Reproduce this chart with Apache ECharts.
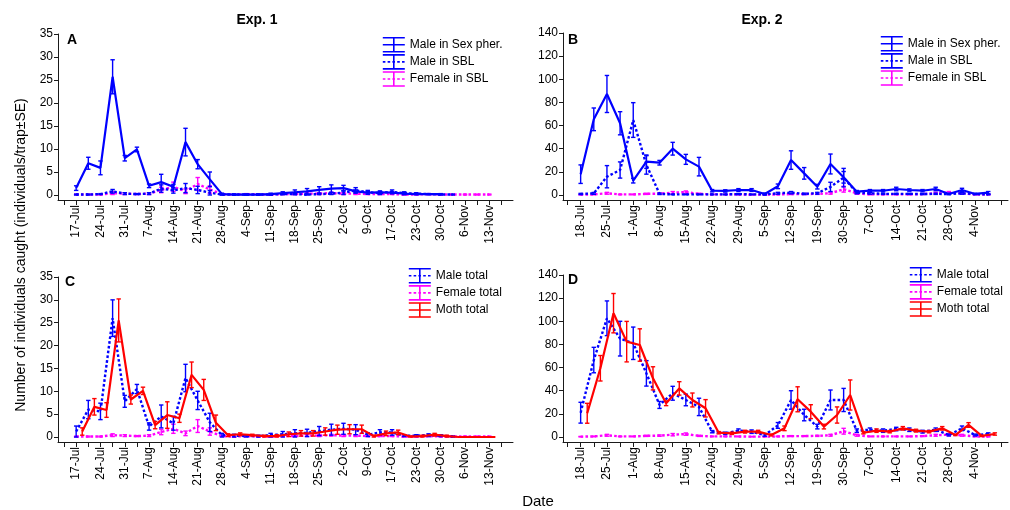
<!DOCTYPE html>
<html>
<head>
<meta charset="utf-8">
<script src="https://cdn.jsdelivr.net/npm/echarts@6/dist/echarts.min.js"></script>
<style>
  html, body { margin: 0; padding: 0; background: #fff; }
  #chart { width: 1010px; height: 510px; }
</style>
</head>
<body>
<div id="chart"></div>
<script>
// Date labels (every second trap check is labelled)
const exp1Labels = ['17-Jul', '24-Jul', '31-Jul', '7-Aug', '14-Aug', '21-Aug', '28-Aug', '4-Sep', '11-Sep',
  '18-Sep', '25-Sep', '2-Oct', '9-Oct', '17-Oct', '23-Oct', '30-Oct', '6-Nov', '13-Nov'];
const exp2Labels = ['18-Jul', '25-Jul', '1-Aug', '8-Aug', '15-Aug', '22-Aug', '29-Aug', '5-Sep', '12-Sep',
  '19-Sep', '30-Sep', '7-Oct', '14-Oct', '21-Oct', '28-Oct', '4-Nov'];

// Exp. 1 — mean catch per trap for each trap check (first entry = first check), with SE
const exp1MaleSexPher = [1.5, 6.9, 5.9, 25.7, 8.0, 9.9, 2.0, 2.8, 1.8, 11.5, 6.7, 3.4, 0.2, 0.1, 0.1, 0.1, 0.2, 0.4,
  0.6, 0.8, 1.1, 1.4, 1.5, 0.8, 0.5, 0.6, 0.5, 0.3, 0.2, 0.2, 0.2];
const exp1MaleSexPherSE = [0.5, 1.3, 1.5, 3.7, 0.6, 0.5, 0.4, 1.7, 0.5, 3.0, 1.0, 1.6, 0.2, 0.1, 0.1, 0.1, 0.2, 0.3,
  0.5, 0.6, 0.7, 0.8, 0.6, 0.3, 0.3, 0.3, 0.2, 0.2, 0.1, 0.1, 0.1];
const exp1MaleSBL = [0.1, 0.1, 0.2, 0.8, 0.3, 0.2, 0.3, 1.4, 1.0, 1.5, 1.1, 0.5, 0.1, 0.1, 0.1, 0.1, 0.1, 0.2, 0.2,
  0.1, 0.2, 0.3, 0.5, 1.0, 0.6, 0.4, 0.7, 0.4, 0.3, 0.2, 0.1, 0.1];
const exp1MaleSBLSE = [0.1, 0.1, 0.1, 0.4, 0.2, 0.1, 0.2, 0.8, 0.6, 1.0, 0.8, 0.5, 0.1, 0.1, 0.1, 0.1, 0.1, 0.1, 0.1,
  0.1, 0.1, 0.2, 0.4, 0.6, 0.4, 0.3, 0.4, 0.3, 0.2, 0.1, 0.1, 0.1];
const exp1FemaleSBL = [0.1, 0.1, 0.1, 0.4, 0.3, 0.2, 0.3, 1.1, 1.8, 0.8, 2.4, 1.2, 0.2, 0.1, 0.2, 0.1, 0.1, 0.2, 0.2,
  0.3, 0.3, 0.4, 0.3, 0.3, 0.2, 0.2, 0.2, 0.1, 0.1, 0.2, 0.1, 0.1, 0.1, 0.1, 0.1];
const exp1FemaleSBLSE = [0.1, 0.1, 0.1, 0.3, 0.2, 0.1, 0.2, 0.6, 1.0, 0.5, 1.4, 0.8, 0.1, 0.1, 0.1, 0.1, 0.1, 0.1, 0.1,
  0.2, 0.2, 0.2, 0.2, 0.2, 0.1, 0.1, 0.1, 0.1, 0.1, 0.1, 0.1, 0.1, 0.1, 0.1, 0.1];
const exp1MaleTotal = [1.2, 6.0, 5.6, 26.0, 7.8, 10.5, 2.3, 4.5, 3.0, 12.9, 8.0, 3.2, 0.4, 0.3, 0.2, 0.2, 0.4, 0.6,
  0.8, 0.9, 1.3, 1.6, 1.8, 1.6, 0.5, 1.0, 1.0, 0.3, 0.3, 0.4, 0.3, 0.1];
const exp1MaleTotalSE = [1.2, 2.0, 1.8, 4.0, 1.3, 1.0, 0.8, 2.5, 1.5, 3.0, 2.0, 2.0, 0.4, 0.3, 0.2, 0.2, 0.4, 0.6,
  0.8, 0.8, 1.0, 1.2, 1.2, 1.1, 0.4, 0.6, 0.6, 0.2, 0.2, 0.3, 0.2, 0.1];
const exp1FemaleTotal = [0.1, 0.1, 0.1, 0.4, 0.3, 0.2, 0.3, 1.1, 1.8, 0.8, 2.4, 1.2, 0.2, 0.1, 0.2, 0.1, 0.1, 0.2, 0.2,
  0.3, 0.3, 0.4, 0.3, 0.3, 0.2, 0.2, 0.2, 0.1, 0.1, 0.2, 0.1, 0.1, 0.1, 0.1, 0.1];
const exp1FemaleTotalSE = [0.1, 0.1, 0.1, 0.3, 0.2, 0.1, 0.2, 0.6, 1.0, 0.5, 1.4, 0.8, 0.1, 0.1, 0.1, 0.1, 0.1, 0.1, 0.1,
  0.2, 0.2, 0.2, 0.2, 0.2, 0.1, 0.1, 0.1, 0.1, 0.1, 0.1, 0.1, 0.1, 0.1, 0.1, 0.1];
const exp1MothTotal = [1.2, 6.6, 5.9, 25.5, 8.2, 10.1, 2.6, 4.8, 4.1, 13.6, 10.3, 3.1, 0.4, 0.6, 0.4, 0.2, 0.2, 0.6,
  0.8, 0.8, 1.2, 1.6, 1.7, 1.7, 0.2, 0.8, 1.0, 0.1, 0.2, 0.5, 0.2, 0.0, 0.0, 0.0, 0.0];
const exp1MothTotalSE = [0.8, 1.8, 1.6, 4.7, 1.0, 0.8, 0.8, 2.9, 0.9, 2.8, 2.3, 1.7, 0.3, 0.3, 0.2, 0.2, 0.3, 0.5,
  0.6, 0.6, 0.8, 1.0, 1.0, 0.9, 0.2, 0.5, 0.5, 0.1, 0.2, 0.3, 0.2, 0, 0, 0, 0];

// Exp. 2
const exp2MaleSexPher = [18, 65.4, 87.3, 62, 12.4, 28.8, 27.9, 40, 30.8, 24.5, 3.7, 3.5, 4.3, 4.3, 0.9, 7.5, 30.2,
  18.7, 7.2, 26.8, 15.3, 2.9, 3.7, 3.7, 5.2, 4.3, 3.7, 5.2, 0.9, 4.3, 0.9, 2.0];
const exp2MaleSexPherSE = [8, 9.8, 16, 10, 2, 5.8, 2, 5.5, 4.3, 8, 1, 1, 1.2, 1.2, 0.8, 2, 8, 5, 2, 8.6, 5, 1, 1, 1,
  1.5, 1, 1, 1.5, 0.5, 1.5, 0.5, 1];
const exp2MaleSBL = [0.9, 1.4, 15.8, 21.6, 64.8, 26, 1.0, 0.5, 0.5, 0.5, 0.5, 0.5, 0.8, 0.5, 0.5, 1.5, 2.0, 1.0, 1.5,
  7.0, 15.0, 2.0, 1.5, 1.0, 1.0, 1.0, 0.8, 1.0, 0.8, 1.5, 0.8, 0.5];
const exp2MaleSBLSE = [0.5, 0.8, 9.6, 7, 15, 8, 0.6, 0.3, 0.3, 0.3, 0.3, 0.3, 0.5, 0.3, 0.3, 0.8, 1, 0.6, 0.8, 4, 8, 1,
  0.8, 0.5, 0.5, 0.5, 0.4, 0.5, 0.4, 0.8, 0.4, 0.3];
const exp2FemaleSBL = [0.3, 0.5, 1.5, 0.5, 0.5, 1.0, 1.2, 2.0, 2.5, 1.0, 0.5, 0.5, 0.5, 0.3, 0.3, 0.5, 0.8, 0.8, 1.0,
  1.5, 5.0, 1.5, 0.5, 0.5, 0.5, 0.5, 0.8, 1.5, 2.0, 1.5, 0.5, 0.3];
const exp2FemaleSBLSE = [0.2, 0.3, 0.8, 0.3, 0.3, 0.5, 0.6, 1, 1, 0.5, 0.3, 0.3, 0.3, 0.2, 0.2, 0.3, 0.4, 0.4, 0.5,
  0.8, 2.5, 0.8, 0.3, 0.3, 0.3, 0.3, 0.4, 0.8, 1, 0.8, 0.3, 0.2];
const exp2MaleTotal = [21, 66.5, 102.6, 85, 81, 55, 27.7, 37.8, 32, 26, 4.6, 3.2, 5.5, 4.6, 1.7, 10, 32, 19, 9, 32, 32,
  5.5, 6.3, 5.5, 6.9, 6.3, 4.6, 6.3, 1.7, 7.5, 1.7, 2.6];
const exp2MaleTotalSE = [9, 11, 15, 15, 14, 11, 3, 6, 5, 7.5, 1, 1, 1.5, 1.5, 1, 2.5, 8, 5, 2, 8.6, 10, 1.5, 1.5, 1.5,
  1.5, 1.5, 1.2, 1.5, 0.8, 2, 0.8, 1];
const exp2FemaleTotal = [0.3, 0.5, 1.5, 0.5, 0.5, 1.0, 1.2, 2.0, 2.5, 1.0, 0.5, 0.5, 0.5, 0.3, 0.3, 0.5, 0.8, 0.8, 1.0,
  1.5, 5.0, 1.5, 0.5, 0.5, 0.5, 0.5, 0.8, 1.5, 2.0, 1.5, 0.5, 0.3];
const exp2FemaleTotalSE = [0.2, 0.3, 0.8, 0.3, 0.3, 0.5, 0.6, 1, 1, 0.5, 0.3, 0.3, 0.3, 0.2, 0.2, 0.3, 0.4, 0.4, 0.5,
  0.8, 2.5, 0.8, 0.3, 0.3, 0.3, 0.3, 0.4, 0.8, 1, 0.8, 0.3, 0.2];
const exp2MothTotal = [20.5, 59.4, 107, 82.4, 79.5, 50.7, 29.1, 42, 32, 24.8, 3.7, 3.2, 4.6, 4.6, 1.7, 7.5, 32.6, 21.9,
  9, 19, 36.3, 3.7, 5.5, 4.6, 7.5, 5.5, 4.6, 7.5, 1.7, 10.4, 0.9, 2.6];
const exp2MothTotalSE = [8.6, 11, 17, 17.5, 14, 10, 2, 5.8, 6, 7.5, 1, 1, 1.2, 1.2, 0.8, 2, 10.8, 6, 2, 7, 13, 1, 1.5,
  1, 1.5, 1.2, 1, 1.5, 0.5, 2, 0.5, 1];

const FONT = 'Liberation Sans, Arial, Helvetica, sans-serif';
const BLUE = '#0000ff', MAGENTA = '#ff00ff', RED = '#ff0000', AXIS = '#1a1a1a';

// trap check k (0-based) sits at x = k + 1; moth totals are nudged half a step right
function points(values, shift) {
  return values.map((v, k) => [k + 1 + shift, v]);
}
function errorRows(values, se, shift) {
  const rows = [];
  values.forEach((v, k) => {
    if (se[k] > 0) rows.push([k + 1 + shift, Math.max(0, v - se[k]), v + se[k]]);
  });
  return rows;
}

function lineSeries(name, values, shift, color, dotted, width, panel, z) {
  return {
    type: 'line', name, xAxisIndex: panel, yAxisIndex: panel, z,
    data: points(values, shift), symbol: 'none', silent: true,
    lineStyle: { color, width, type: dotted ? [2.6, 2.2] : 'solid' },
    itemStyle: { color }
  };
}
function errorSeries(name, values, se, shift, color, panel, z) {
  return {
    type: 'custom', name: name + ' SE', xAxisIndex: panel, yAxisIndex: panel, z, silent: true,
    data: errorRows(values, se, shift),
    encode: { x: 0, y: [1, 2] },
    renderItem: function (params, api) {
      const x = api.value(0);
      const hi = api.coord([x, api.value(2)]);
      const lo = api.coord([x, api.value(1)]);
      const cap = 2.2;
      const style = { stroke: color, lineWidth: 1.4, fill: null };
      return {
        type: 'group',
        children: [
          { type: 'line', shape: { x1: hi[0], y1: hi[1], x2: lo[0], y2: lo[1] }, style },
          { type: 'line', shape: { x1: hi[0] - cap, y1: hi[1], x2: hi[0] + cap, y2: hi[1] }, style },
          { type: 'line', shape: { x1: lo[0] - cap, y1: lo[1], x2: lo[0] + cap, y2: lo[1] }, style }
        ]
      };
    }
  };
}

function range(a, b, step) { const r = []; for (let v = a; v <= b; v += step) r.push(v); return r; }

function xAxisFor(panel, labels, min, max, lastTick) {
  return {
    type: 'value', gridIndex: panel, min, max,
    axisLine: { show: true, onZero: false, lineStyle: { color: AXIS, width: 1 } },
    axisTick: { show: true, length: 5, lineStyle: { color: AXIS, width: 1 }, customValues: range(0, lastTick, 1) },
    axisLabel: {
      customValues: labels.map((_, i) => 2 * i + 1),
      formatter: v => labels[Math.round((v - 1) / 2)],
      rotate: 90, fontSize: 12, color: '#000', fontFamily: FONT, margin: 5
    },
    splitLine: { show: false }
  };
}
function yAxisFor(panel, min, max, step) {
  const vals = range(0, max, step);
  return {
    type: 'value', gridIndex: panel, min, max,
    axisLine: { show: true, onZero: false, lineStyle: { color: AXIS, width: 1 } },
    axisTick: { show: true, length: 4, lineStyle: { color: AXIS, width: 1 }, customValues: vals },
    axisLabel: { customValues: vals, fontSize: 12, color: '#000', fontFamily: FONT, margin: 5 },
    splitLine: { show: false }
  };
}

// legend glyphs: mean line with an error bar across it
const ICON_SOLID = 'path://M0,0H22M0,14H22M11,0V14M0,7H22';
const ICON_DOTTED = 'path://M0,0H22M0,14H22M11,0V14M0,7H2.6M4.8,7H7.4M9.6,7H12.2M14.4,7H17M19.2,7H21.8';
function legendFor(left, top, items) {
  return {
    orient: 'vertical', left, top, padding: 0, itemGap: 1.5,
    itemWidth: 22, itemHeight: 14, selectedMode: false, symbolKeepAspect: false,
    textStyle: { fontSize: 12, color: '#000', fontFamily: FONT },
    data: items.map(it => ({
      name: it[0], icon: it[2] ? ICON_DOTTED : ICON_SOLID,
      itemStyle: { color: it[1], borderColor: it[1], borderWidth: 1.6 }
    }))
  };
}

const series = [
  // A
  lineSeries('Female in SBL', exp1FemaleSBL, 0, MAGENTA, true, 2.4, 0, 2),
  errorSeries('Female in SBL', exp1FemaleSBL, exp1FemaleSBLSE, 0, MAGENTA, 0, 2),
  lineSeries('Male in SBL', exp1MaleSBL, 0, BLUE, true, 2.4, 0, 3),
  errorSeries('Male in SBL', exp1MaleSBL, exp1MaleSBLSE, 0, BLUE, 0, 3),
  lineSeries('Male in Sex pher.', exp1MaleSexPher, 0, BLUE, false, 2.2, 0, 4),
  errorSeries('Male in Sex pher.', exp1MaleSexPher, exp1MaleSexPherSE, 0, BLUE, 0, 4),
  // B
  lineSeries('Female in SBL', exp2FemaleSBL, 0, MAGENTA, true, 2.4, 1, 2),
  errorSeries('Female in SBL', exp2FemaleSBL, exp2FemaleSBLSE, 0, MAGENTA, 1, 2),
  lineSeries('Male in SBL', exp2MaleSBL, 0, BLUE, true, 2.4, 1, 3),
  errorSeries('Male in SBL', exp2MaleSBL, exp2MaleSBLSE, 0, BLUE, 1, 3),
  lineSeries('Male in Sex pher.', exp2MaleSexPher, 0, BLUE, false, 2.2, 1, 4),
  errorSeries('Male in Sex pher.', exp2MaleSexPher, exp2MaleSexPherSE, 0, BLUE, 1, 4),
  // C
  lineSeries('Female total', exp1FemaleTotal, 0, MAGENTA, true, 2.4, 2, 2),
  errorSeries('Female total', exp1FemaleTotal, exp1FemaleTotalSE, 0, MAGENTA, 2, 2),
  lineSeries('Male total', exp1MaleTotal, 0, BLUE, true, 2.4, 2, 3),
  errorSeries('Male total', exp1MaleTotal, exp1MaleTotalSE, 0, BLUE, 2, 3),
  lineSeries('Moth total', exp1MothTotal, 0.5, RED, false, 2.2, 2, 4),
  errorSeries('Moth total', exp1MothTotal, exp1MothTotalSE, 0.5, RED, 2, 4),
  // D
  lineSeries('Female total', exp2FemaleTotal, 0, MAGENTA, true, 2.4, 3, 2),
  errorSeries('Female total', exp2FemaleTotal, exp2FemaleTotalSE, 0, MAGENTA, 3, 2),
  lineSeries('Male total', exp2MaleTotal, 0, BLUE, true, 2.4, 3, 3),
  errorSeries('Male total', exp2MaleTotal, exp2MaleTotalSE, 0, BLUE, 3, 3),
  lineSeries('Moth total', exp2MothTotal, 0.5, RED, false, 2.2, 3, 4),
  errorSeries('Moth total', exp2MothTotal, exp2MothTotalSE, 0.5, RED, 3, 4)
];

function label(text, x, y, size, bold, extra) {
  return Object.assign({
    type: 'text', x, y, silent: true,
    style: {
      text, fill: '#000', font: (bold ? 'bold ' : '') + size + 'px ' + FONT,
      textAlign: 'center', textVerticalAlign: 'middle'
    }
  }, extra || {});
}

const chart = echarts.init(document.getElementById('chart'), null, { renderer: 'canvas' });
chart.setOption({
  animation: false,
  backgroundColor: '#fff',
  grid: [
    { left: 58, top: 34, width: 455, height: 166 },
    { left: 563, top: 33, width: 445, height: 167 },
    { left: 58, top: 277, width: 455, height: 165 },
    { left: 563, top: 275, width: 445, height: 167 }
  ],
  xAxis: [
    xAxisFor(0, exp1Labels, -0.494, 36.95, 36),
    xAxisFor(1, exp2Labels, -0.342, 33.5, 33),
    xAxisFor(2, exp1Labels, -0.494, 36.95, 36),
    xAxisFor(3, exp2Labels, -0.342, 33.5, 33)
  ],
  yAxis: [
    yAxisFor(0, -1.087, 35, 5),
    yAxisFor(1, -4.32, 140, 20),
    yAxisFor(2, -1.094, 35, 5),
    yAxisFor(3, -4.32, 140, 20)
  ],
  legend: [
    legendFor(382, 37, [['Male in Sex pher.', BLUE, false], ['Male in SBL', BLUE, true], ['Female in SBL', MAGENTA, true]]),
    legendFor(880, 36, [['Male in Sex pher.', BLUE, false], ['Male in SBL', BLUE, true], ['Female in SBL', MAGENTA, true]]),
    legendFor(408, 268, [['Male total', BLUE, true], ['Female total', MAGENTA, true], ['Moth total', RED, false]]),
    legendFor(909, 267, [['Male total', BLUE, true], ['Female total', MAGENTA, true], ['Moth total', RED, false]])
  ],
  graphic: [
    label('Exp. 1', 257, 20, 14, true),
    label('Exp. 2', 762, 20, 14, true),
    label('A', 72, 40, 14, true),
    label('B', 573, 40, 14, true),
    label('C', 70, 282, 14, true),
    label('D', 573, 280, 14, true),
    label('Date', 538, 502, 15, false),
    label('Number of individuals caught (individuals/trap\u00B1SE)', 21, 255, 14, false, { rotation: Math.PI / 2 })
  ],
  series
});
</script>
</body>
</html>
